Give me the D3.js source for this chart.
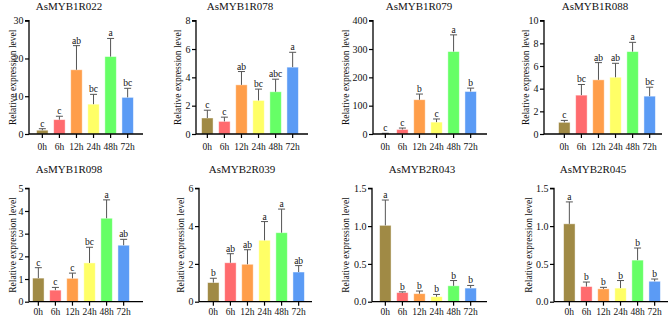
<!DOCTYPE html>
<html lang="en">
<head>
<meta charset="utf-8">
<script src="https://d3js.org/d3.v7.min.js"></script>
<style>
    body { margin: 0; background: #fff; }
    svg, svg text { font-family: 'Liberation Serif', 'DejaVu Serif', serif !important; }
</style>
</head>
<body>
<div id="container"></div>
<script>

    // time points and bar colours
    const times = ["0h", "6h", "12h", "24h", "48h", "72h"];
    const colours = ["#a08a45", "#ff6b6e", "#ff9e4a", "#ffff66", "#66ff66", "#5b9bf5"];

    // gene names
    const genes = ["AsMYB1R022", "AsMYB1R078", "AsMYB1R079", "AsMYB1R088",
                   "AsMYB1R098", "AsMYB2R039", "AsMYB2R043", "AsMYB2R045"];

    // mean expression per gene
    const means = [
        [1.0, 3.8, 17.0, 7.9, 20.5, 9.7],
        [1.13, 0.89, 3.47, 2.37, 2.98, 4.72],
        [1, 16, 121, 42, 291, 150],
        [1.03, 3.43, 4.78, 5.01, 7.27, 3.34],
        [1.04, 0.51, 1.03, 1.71, 3.68, 2.49],
        [1.01, 2.06, 1.98, 3.25, 3.65, 1.57],
        [1.01, 0.12, 0.106, 0.066, 0.21, 0.18],
        [1.03, 0.2, 0.17, 0.18, 0.55, 0.27]
    ];

    // error bar (upper) per gene
    const errors = [
        [0.4, 0.9, 6.4, 2.6, 4.8, 2.4],
        [0.55, 0.3, 0.94, 0.8, 0.89, 1.05],
        [1.5, 5, 20, 11, 59, 12],
        [0.17, 0.94, 1.52, 1.23, 0.82, 0.79],
        [0.46, 0.12, 0.23, 0.69, 0.81, 0.26],
        [0.23, 0.48, 0.77, 0.99, 1.25, 0.34],
        [0.335, 0.01, 0.035, 0.03, 0.07, 0.035],
        [0.29, 0.06, 0.02, 0.1, 0.16, 0.03]
    ];

    // significance letters
    const letters = [
        ["c", "c", "ab", "bc", "a", "bc"],
        ["c", "c", "ab", "bc", "abc", "a"],
        ["c", "c", "b", "c", "a", "b"],
        ["c", "bc", "ab", "ab", "a", "bc"],
        ["c", "c", "c", "bc", "a", "ab"],
        ["b", "ab", "ab", "a", "a", "ab"],
        ["a", "b", "b", "b", "b", "b"],
        ["a", "b", "b", "b", "b", "b"]
    ];

    // y axis max and tick values
    const yMax = [30, 8, 400, 10, 5, 6, 1.5, 1.5];
    const yTicks = [
        [0, 10, 20, 30],
        [0, 2, 4, 6, 8],
        [0, 100, 200, 300, 400],
        [0, 2, 4, 6, 8, 10],
        [0, 1, 2, 3, 4, 5],
        [0, 2, 4, 6],
        [0, 0.5, 1.0, 1.5],
        [0, 0.5, 1.0, 1.5]
    ];

    // panel placement: axis x, first bar centre, axis end, title x, y label x
    const layout = [
        {ax: 29,  c0: 40,  end: 143, tx: 69,  lx: 13},
        {ax: 196, c0: 205, end: 308, tx: 240, lx: 178},
        {ax: 373, c0: 383, end: 487, tx: 419, lx: 346},
        {ax: 544, c0: 562, end: 662, tx: 595, lx: 526},
        {ax: 29,  c0: 36,  end: 143, tx: 69,  lx: 13},
        {ax: 199, c0: 211, end: 312, tx: 242, lx: 181},
        {ax: 372, c0: 383, end: 487, tx: 422, lx: 346},
        {ax: 554, c0: 567, end: 668, tx: 593, lx: 529}
    ];
    const rows = [
        {top: 20.7, bottom: 134, title: 10, label: 149.5},
        {top: 188.3, bottom: 301.7, title: 173, label: 314.5}
    ];

    const width = 669, height = 317, step = 18;

    const svg = d3.select("#container")
                    .append("svg")
                    .attr("width", width)
                    .attr("height", height)
                    .attr("font-family", "Liberation Serif, DejaVu Serif, serif");

    genes.forEach(function(gene, i) {
        var L = layout[i];
        var R = rows[Math.floor(i / 4)];

        var x = d3.scaleBand()
                    .domain(times)
                    .range([L.c0 - step / 2, L.c0 - step / 2 + step * times.length])
                    .padding(0.33);

        var y = d3.scaleLinear()
                    .domain([0, yMax[i]])
                    .range([R.bottom, R.top]);

        var g = svg.append("g");

        // bars
        var data = times.map(function(t, j) {
            return {t: t, v: means[i][j], e: errors[i][j], l: letters[i][j], c: colours[j]};
        });

        g.selectAll("rect")
            .data(data)
            .enter()
            .append("rect")
            .attr("x", function(d) { return x(d.t); })
            .attr("y", function(d) { return y(d.v); })
            .attr("width", x.bandwidth())
            .attr("height", function(d) { return R.bottom - y(d.v); })
            .attr("fill", function(d) { return d.c; })
            .attr("stroke", "rgba(255,255,255,0.55)")
            .attr("stroke-width", 0.8);

        // error bars
        var eb = g.selectAll(".err")
                    .data(data)
                    .enter()
                    .append("g")
                    .attr("class", "err")
                    .attr("stroke", "#555")
                    .attr("stroke-width", 1);
        eb.append("line")
            .attr("x1", function(d) { return x(d.t) + x.bandwidth() / 2; })
            .attr("x2", function(d) { return x(d.t) + x.bandwidth() / 2; })
            .attr("y1", function(d) { return y(d.v); })
            .attr("y2", function(d) { return y(d.v + d.e); });
        eb.append("line")
            .attr("x1", function(d) { return x(d.t) + x.bandwidth() / 2 - 3.5; })
            .attr("x2", function(d) { return x(d.t) + x.bandwidth() / 2 + 3.5; })
            .attr("y1", function(d) { return y(d.v + d.e); })
            .attr("y2", function(d) { return y(d.v + d.e); });

        // letters
        g.selectAll(".lab")
            .data(data)
            .enter()
            .append("text")
            .attr("class", "lab")
            .attr("x", function(d) { return x(d.t) + x.bandwidth() / 2; })
            .attr("y", function(d) { return y(d.v + d.e) - 2; })
            .attr("text-anchor", "middle")
            .attr("font-size", 9.5)
            .attr("fill", "#111")
            .text(function(d) { return d.l; });

        // y axis
        var yAxis = g.append("g")
            .attr("transform", "translate(" + L.ax + ",0)")
            .call(d3.axisLeft(y).tickValues(yTicks[i]).tickSize(4)
                .tickFormat(yMax[i] < 2 ? d3.format(".1f") : d3.format("d")));

        // x axis
        var xAxis = g.append("g")
            .attr("transform", "translate(0," + R.bottom + ")")
            .call(d3.axisBottom(x).tickSize(4).tickSizeOuter(0));
        xAxis.select(".domain").attr("d", "M" + L.ax + ",0H" + L.end);
        xAxis.selectAll("text").remove();

        [yAxis, xAxis].forEach(function(a) {
            a.attr("font-family", null);
            a.select(".domain").attr("stroke", "#000").attr("stroke-width", 1.3);
            a.selectAll(".tick line").attr("stroke", "#000").attr("stroke-width", 1.2);
        });
        yAxis.select(".domain").attr("d", "M-4," + R.top + "H0V" + R.bottom);
        yAxis.attr("font-size", 10);
        yAxis.selectAll("text")
            .attr("x", -5.5)
            .attr("fill", "#111");

        // x tick labels
        g.selectAll(".xl")
            .data(times)
            .enter()
            .append("text")
            .attr("class", "xl")
            .attr("x", function(t) { return x(t) + x.bandwidth() / 2; })
            .attr("y", R.label)
            .attr("text-anchor", "middle")
            .attr("font-size", 9.5)
            .attr("fill", "#111")
            .text(function(t) { return t; });

        // title
        g.append("text")
            .attr("x", L.tx)
            .attr("y", R.title)
            .attr("text-anchor", "middle")
            .attr("font-size", 11)
            .attr("fill", "#111")
            .text(gene);

        // y label
        g.append("text")
            .attr("transform", "translate(" + L.lx + "," + (R.top + R.bottom) / 2 + ") rotate(-90)")
            .attr("text-anchor", "middle")
            .attr("dy", "0.35em")
            .attr("font-size", 9.5)
            .attr("fill", "#111")
            .text("Relative expression level");
    });

</script>
</body>
</html>
